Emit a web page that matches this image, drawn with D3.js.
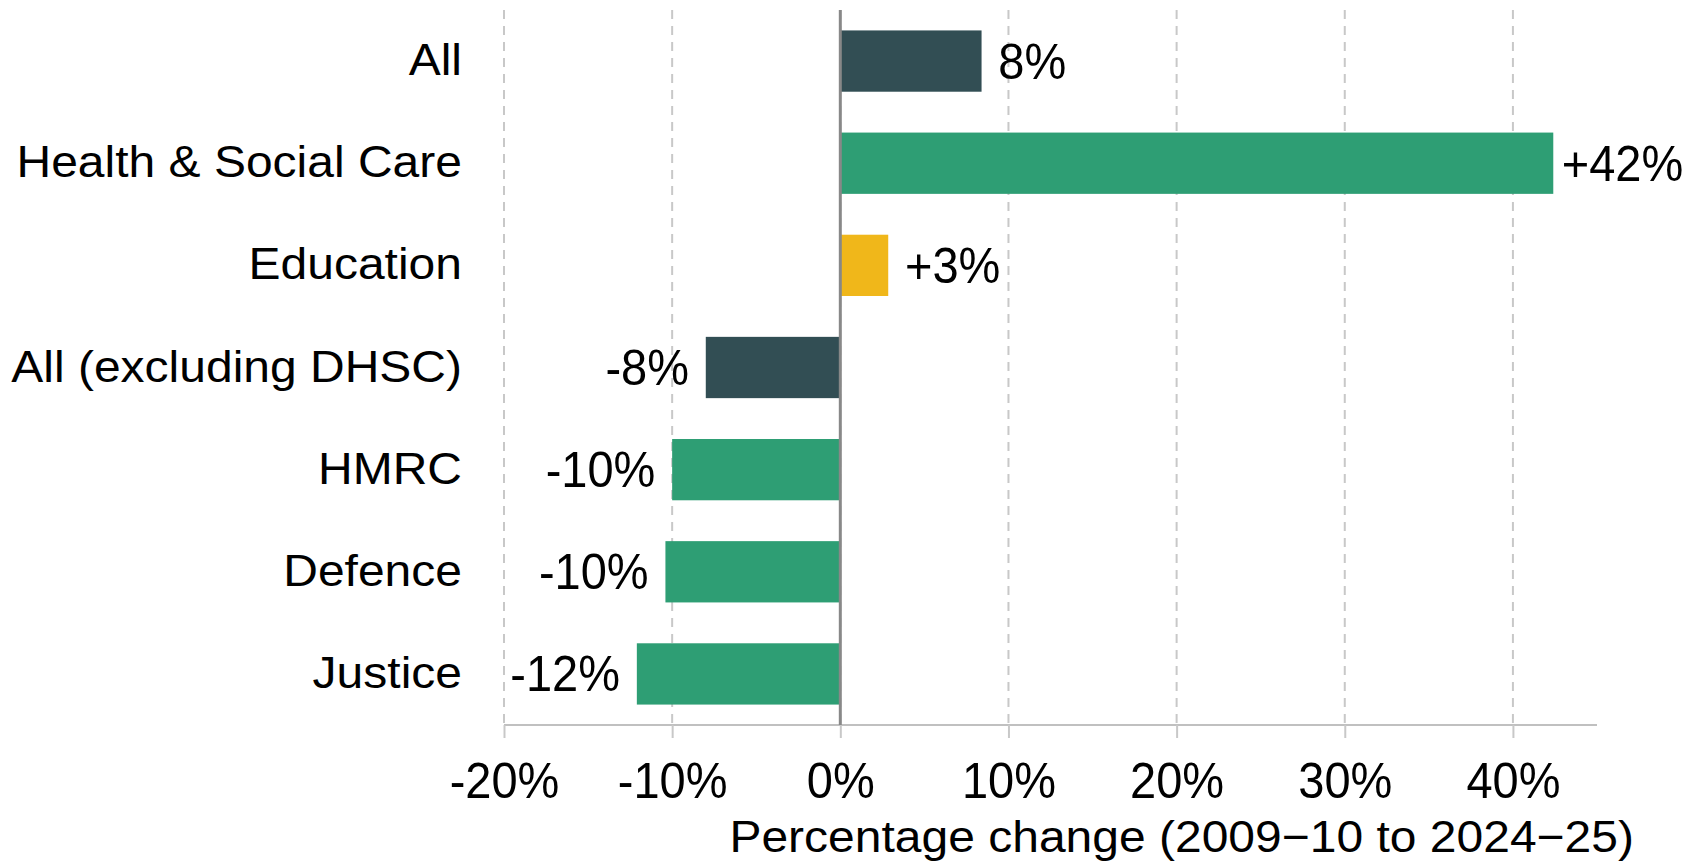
<!DOCTYPE html>
<html><head><meta charset="utf-8">
<script src="https://cdn.jsdelivr.net/npm/d3@7"></script>
<style>
body{margin:0;background:#fff;overflow:hidden}
text{font-family:"Liberation Sans",Arial,sans-serif;fill:#000}
</style></head>
<body>
<script>
const categories = ["All", "Health & Social Care", "Education", "All (excluding DHSC)", "HMRC", "Defence", "Justice"];
const values = [8.4, 42.4, 2.85, -8.0, -10.0, -10.4, -12.1];
const valueLabels = ["8%", "+42%", "+3%", "-8%", "-10%", "-10%", "-12%"];
const barColors = ["#324e54", "#2e9e74", "#f0b71a", "#324e54", "#2e9e74", "#2e9e74", "#2e9e74"];
const tickValues = [-20, -10, 0, 10, 20, 30, 40];
const tickLabels = ["-20%", "-10%", "0%", "10%", "20%", "30%", "40%"];
const axisTitle = "Percentage change (2009\u221210 to 2024\u221225)";

(function () {
const W = 1698, H = 862;
const pTop = 10, pBottom = 725, pLeft = 504, pRight = 1597;
const svg = d3.select("body").append("svg").attr("width", W).attr("height", H);

const x = d3.scaleLinear().domain([-20, 45]).range([pLeft, pRight]);
const y = d3.scaleBand().domain(categories).range([pTop, pBottom]).paddingInner(0.4).paddingOuter(0.2);

// gridlines
svg.append("g").selectAll("line").data(tickValues).join("line")
  .attr("x1", d => x(d)).attr("x2", d => x(d))
  .attr("y1", pTop).attr("y2", pBottom)
  .attr("stroke", "#c8c8c8").attr("stroke-width", 2).attr("stroke-dasharray", "9,7");

// x axis
const axis = d3.axisBottom(x).tickValues(tickValues).tickSize(13)
  .tickFormat((d, i) => tickLabels[i]);
const gx = svg.append("g").attr("transform", `translate(0,${pBottom})`).call(axis);
gx.attr("font-family", null).attr("font-size", null);
gx.select(".domain").attr("stroke", "#c0c0c0").attr("stroke-width", 2).attr("d", `M${pLeft},0H${pRight}`);
gx.selectAll(".tick line").attr("stroke", "#c8c8c8").attr("stroke-width", 2);
gx.selectAll(".tick text").attr("y", 0).attr("dy", 0)
  .attr("font-size", 47).attr("fill", "#000")
  .attr("transform", "translate(0,73) scale(1,1.05)");

// bars
const rows = categories.map((c, i) => ({c, v: values[i], label: valueLabels[i], color: barColors[i]}));
svg.append("g").selectAll("rect").data(rows).join("rect")
  .attr("x", d => x(Math.min(0, d.v)))
  .attr("width", d => Math.abs(x(d.v) - x(0)))
  .attr("y", d => y(d.c))
  .attr("height", y.bandwidth())
  .attr("fill", d => d.color);

// zero line
svg.append("line").attr("x1", x(0)).attr("x2", x(0)).attr("y1", pTop).attr("y2", pBottom)
  .attr("stroke", "#888").attr("stroke-width", 3);

// category labels
svg.append("g").selectAll("text").data(rows).join("text")
  .attr("transform", d => `translate(462,${y(d.c) + y.bandwidth() / 2 + 14}) scale(1,0.93)`)
  .attr("text-anchor", "end").attr("font-size", 48)
  .text(d => d.c);

// value labels
const pad = d => d.c === "Health & Social Care" ? 0.5 : 1;
svg.append("g").selectAll("text").data(rows).join("text")
  .attr("transform", d => `translate(${d.v >= 0 ? x(d.v + pad(d)) : x(d.v - 1)},${y(d.c) + y.bandwidth() / 2 + 17.5}) scale(1,1.05)`)
  .attr("text-anchor", d => d.v >= 0 ? "start" : "end")
  .attr("font-size", 47)
  .text(d => d.label);

// axis title
svg.append("text").attr("transform", "translate(1634,852) scale(1,0.93)")
  .attr("text-anchor", "end").attr("font-size", 48).text(axisTitle);
})();
</script>
</body></html>
